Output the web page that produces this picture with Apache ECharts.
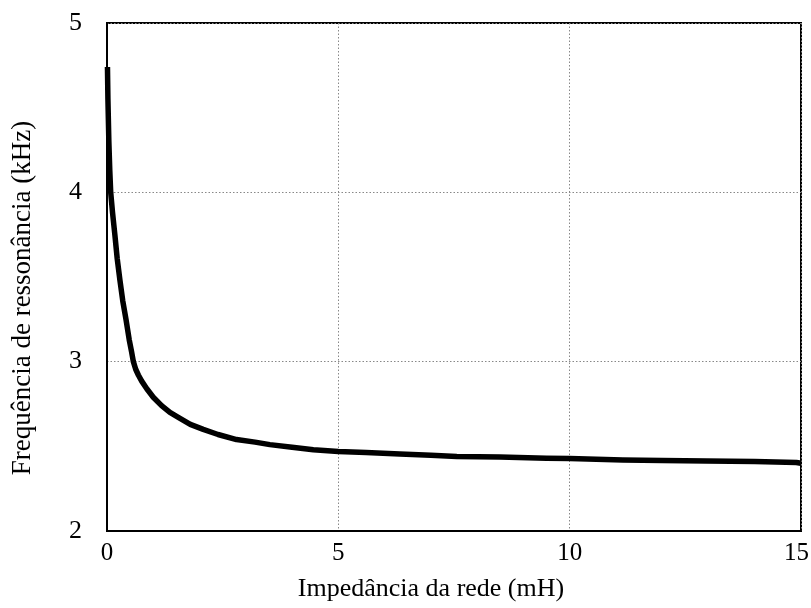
<!DOCTYPE html>
<html>
<head>
<meta charset="utf-8">
<script src="https://cdn.jsdelivr.net/npm/echarts@6/dist/echarts.min.js"></script>
<style>
html,body{margin:0;padding:0;background:#fff;}
#chart{width:811px;height:608px;}
</style>
</head>
<body>
<div id="chart"></div>
<script>
const impedance = [0.01, 0.02, 0.04, 0.06, 0.08, 0.12, 0.17, 0.22, 0.28, 0.34, 0.41, 0.48, 0.53, 0.57, 0.62, 0.68, 0.75, 0.86, 1.0, 1.18, 1.36, 1.55, 1.8, 2.08, 2.4, 2.8, 3.2, 3.52, 4.0, 4.46, 5.0, 5.6, 6.33, 7.0, 7.56, 8.49, 9.5, 10.0, 11.15, 12.0, 12.96, 14.0, 14.9, 15.0];
const frequency = [4.74, 4.55, 4.30, 4.13, 4.00, 3.88, 3.75, 3.61, 3.48, 3.36, 3.25, 3.13, 3.06, 3.00, 2.955, 2.92, 2.885, 2.84, 2.79, 2.74, 2.70, 2.67, 2.63, 2.60, 2.57, 2.54, 2.525, 2.51, 2.495, 2.48, 2.47, 2.463, 2.455, 2.447, 2.44, 2.437, 2.43, 2.428, 2.42, 2.416, 2.413, 2.41, 2.405, 2.40];
const xTicks = [0, 5, 10, 15];
const xTitle = 'Impedância da rede (mH)';
const yTitle = 'Frequência de ressonância (kHz)';

const data = impedance.map((x, i) => [x, frequency[i]]);
const font = 'Liberation Serif';
const xMax = xTicks[xTicks.length - 1];

const chart = echarts.init(document.getElementById('chart'), null, {renderer: 'canvas'});
chart.setOption({
  animation: false,
  backgroundColor: '#fff',
  grid: {left: 107, right: 10, top: 23, bottom: 77, show: true, borderColor: '#000', borderWidth: 2, backgroundColor: 'transparent', containLabel: false, outerBoundsMode: 'none'},
  xAxis: {
    type: 'value', min: xTicks[0], max: xMax, interval: 5,
    name: xTitle, nameLocation: 'middle', nameGap: 45,
    nameTextStyle: {fontFamily: font, fontSize: 26, color: '#000', padding: [0, 46, 0, 0]},
    axisLine: {show: true, lineStyle: {color: '#000', width: 2}},
    axisTick: {show: false},
    axisLabel: {
      fontFamily: font, fontSize: 25, color: '#000', margin: 10,
      formatter: v => v === xMax ? '{m|' + v + '}' : String(v),
      rich: {m: {fontFamily: font, fontSize: 25, color: '#000', padding: [0, 9, 0, 0]}}
    },
    splitLine: {show: true, lineStyle: {color: '#888', type: [1.5, 2], width: 1}}
  },
  yAxis: {
    type: 'value', min: 2, max: 5, interval: 1,
    name: yTitle, nameLocation: 'middle', nameGap: 71, nameRotate: 90,
    nameTextStyle: {fontFamily: font, fontSize: 27, color: '#000', padding: [0, 42, 0, 0]},
    axisLine: {show: true, lineStyle: {color: '#000', width: 2}},
    axisTick: {show: false},
    axisLabel: {fontFamily: font, fontSize: 26, color: '#000', margin: 25},
    splitLine: {show: true, lineStyle: {color: '#888', type: [1.5, 2], width: 1}}
  },
  series: [{
    type: 'line', data: data, showSymbol: false, smooth: false,
    lineStyle: {color: '#000', width: 5.5, join: 'round'},
    clip: true
  }]
});
</script>
</body>
</html>
